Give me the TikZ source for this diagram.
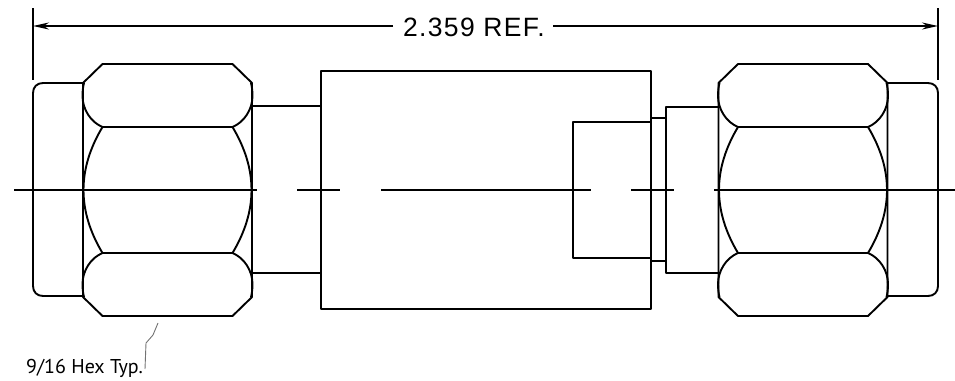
\documentclass[tikz,border=0pt]{standalone}
\usepackage{fontspec}
\setmainfont{Liberation Sans}
\newfontfamily\dimfont[LetterSpace=5]{Liberation Sans}
\newfontfamily\notefont{PT Sans}
\usetikzlibrary{arrows.meta}
\tikzset{
  part/.style={line width=1.9pt,line join=round},
  axis/.style={line width=1.7pt},
  extline/.style={line width=1.5pt},
  dimline/.style={line width=1.8pt},
  leader/.style={line width=.9pt,draw=black!55},
  pics/nut/.style={code={
    \draw[part] (-65,-126)--(65,-126)--(84.5,-107)--(84.5,107)--(65,126)--(-65,126)--(-84.5,107)--(-84.5,-107)--cycle;
    \draw[part] (-83.5,-107) .. controls (-84.5,-103) and (-85,-99) .. (-85,-94) .. controls (-85,-81) and (-77,-68) .. (-65,-63) -- (65,-63) .. controls (77,-68) and (85,-81) .. (85,-94) .. controls (85,-99) and (84.5,-103) .. (83.5,-107);
    \draw[part] (-83.5,107) .. controls (-84.5,103) and (-85,99) .. (-85,94) .. controls (-85,81) and (-77,68) .. (-65,63) -- (65,63) .. controls (77,68) and (85,81) .. (85,94) .. controls (85,99) and (84.5,103) .. (83.5,107);
    \draw[part] (-65,-63) .. controls (-77,-43) and (-84,-22) .. (-84,0) .. controls (-84,22) and (-77,43) .. (-65,63);
    \draw[part] (65,-63) .. controls (77,-43) and (84,-22) .. (84,0) .. controls (84,22) and (77,43) .. (65,63);
  }}
}
\begin{document}
\begin{tikzpicture}[x=1pt,y=-1pt]
\useasboundingbox (0,0) rectangle (955,380);
% dimension
\node[font=\dimfont\fontsize{26.5}{26.5}\selectfont,inner sep=0pt,anchor=center] (dim) at (474,27) {2.359 REF.};
\coordinate (dl) at (33,26);
\coordinate (dr) at (938,26);
\draw[extline] (33,8) -- (33,80);
\draw[extline] (938,8) -- (938,80);
\draw[dimline,-{Stealth[length=16pt,width=7pt]}] (393,26) -- (dl);
\draw[dimline,-{Stealth[length=16pt,width=7pt]}] (553,26) -- (dr);
% nuts
\pic at (167.5,190) {nut};
\pic at (803,190) {nut};
% caps
\draw[part] (83,83) -- (43,83) .. controls (37,83) and (33,87) .. (33,93) -- (33,286) .. controls (33,292) and (37,296) .. (43,296) -- (83,296);
\draw[part] (887,83) -- (928,83) .. controls (934,83) and (938,87) .. (938,93) -- (938,286) .. controls (938,292) and (934,296) .. (928,296) -- (887,296);
% body
\draw[part] (252,106) -- (321,106);
\draw[part] (252,273) -- (321,273);
\draw[part] (321,71) rectangle (651,309);
\draw[part] (651,122) -- (573,122) -- (573,258) -- (651,258);
\draw[part] (651,118) -- (666,118);
\draw[part] (651,261) -- (666,261);
\draw[part] (719,107) -- (666,107) -- (666,273) -- (719,273);
% axis
\draw[axis] (14,190) -- (257,190);
\draw[axis] (297,190) -- (340,190);
\draw[axis] (381,190) -- (591,190);
\draw[axis] (631,190) -- (674,190);
\draw[axis] (714,190) -- (955,190);
% note
\node[font=\notefont\fontsize{20}{20}\selectfont,inner sep=0pt,anchor=base west] (note) at (26,373) {9/16 Hex Typ.};
\coordinate (lead) at (158,323);
\coordinate (leadfoot) at (145,369);
\draw[leader] (leadfoot) -- (146,343) -- (153,335) -- (lead);
\end{tikzpicture}
\end{document}
